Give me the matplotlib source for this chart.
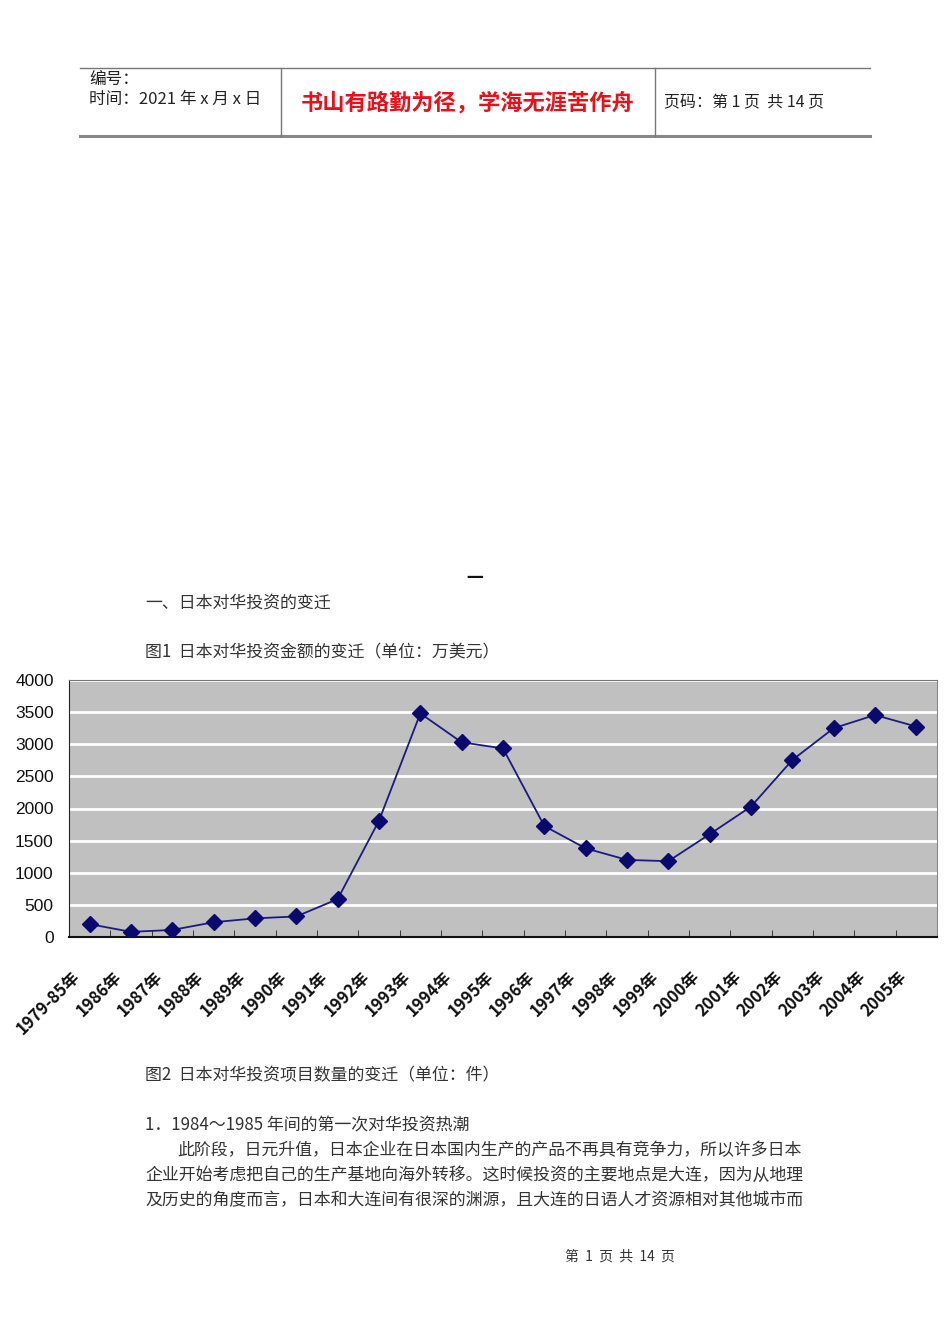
import numpy as np
import matplotlib
matplotlib.use('Agg')
import matplotlib.pyplot as plt
from matplotlib.ticker import FixedLocator
from matplotlib.transforms import ScaledTranslation

plt.rcParams['font.family'] = ['Noto Sans CJK SC', 'DejaVu Sans']

# 日本对华投资金额（万美元）
years = ['1979-85年', '1986年', '1987年', '1988年', '1989年', '1990年', '1991年',
         '1992年', '1993年', '1994年', '1995年', '1996年', '1997年', '1998年',
         '1999年', '2000年', '2001年', '2002年', '2003年', '2004年', '2005年']
amount = [200, 80, 110, 230, 290, 320, 590, 1810, 3480, 3030, 2935, 1727,
          1380, 1200, 1180, 1600, 2030, 2755, 3250, 3455, 3275]
yticks = [0, 500, 1000, 1500, 2000, 2500, 3000, 3500, 4000]

W, H = 950, 1344
fig = plt.figure(figsize=(W / 100, H / 100), dpi=100)
fig.patch.set_facecolor('white')

def px(x, y):
    return x / W, 1 - y / H

def line(x0, y0, x1, y1, **kw):
    a, b = px(x0, y0)
    c, d = px(x1, y1)
    fig.add_artist(plt.Line2D([a, c], [b, d], transform=fig.transFigure, **kw))

def txt(x, y, s, **kw):
    a, b = px(x, y)
    fig.text(a, b, s, va='center', **kw)

# 页眉表格
line(80, 68, 870, 68, color='#777777', lw=1.0)
line(80, 136, 870, 136, color='#888888', lw=2.2)
line(281, 68, 281, 136, color='#777777', lw=1.0)
line(655, 68, 655, 136, color='#777777', lw=1.0)
txt(89, 80, '编号：', fontsize=12, color='#222222')
txt(89, 99, '时间：2021 年 x 月 x 日', fontsize=12, color='#222222')
txt(468, 103, '书山有路勤为径，学海无涯苦作舟', fontsize=16, color='#e8101a',
    ha='center', fontweight='bold')
txt(664, 103, '页码：第 1 页  共 14 页', fontsize=11.5, color='#222222')

# 正文
body = '#333333'
fs = 12.2
txt(475, 578, '一', fontsize=12, color='#111111', ha='center', fontweight='bold')
txt(145, 602, '一、日本对华投资的变迁', fontsize=fs, color=body)
txt(145, 652, '图1  日本对华投资金额的变迁（单位：万美元）', fontsize=fs, color=body)
txt(145, 1075, '图2  日本对华投资项目数量的变迁（单位：件）', fontsize=fs, color=body)
txt(145, 1125, '1．1984～1985 年间的第一次对华投资热潮', fontsize=fs, color=body)
txt(177, 1150, '此阶段，日元升值，日本企业在日本国内生产的产品不再具有竞争力，所以许多日本',
    fontsize=fs, color=body)
txt(145, 1175, '企业开始考虑把自己的生产基地向海外转移。这时候投资的主要地点是大连，因为从地理',
    fontsize=fs, color=body)
txt(145, 1200, '及历史的角度而言，日本和大连间有很深的渊源，且大连的日语人才资源相对其他城市而',
    fontsize=fs, color=body)
txt(620, 1256, '第  1  页  共  14  页', fontsize=10, color=body, ha='center')

# 图表
l, t, r, b = 69, 680, 937, 937
ax = fig.add_axes([l / W, 1 - b / H, (r - l) / W, (b - t) / H])
ax.set_facecolor('#c0c0c0')
x = np.arange(len(years))
ax.plot(x, amount, color='#1a1a80', lw=1.3, marker='D', markersize=8.5,
        markerfacecolor='#0a0a6e', markeredgecolor='#0a0a6e', zorder=3)
ax.set_xlim(-0.5, len(years) - 0.5)
ax.set_ylim(0, 4000)
ax.set_yticks(yticks)
ax.yaxis.grid(True, color='white', lw=2)
ax.set_axisbelow(True)
ax.tick_params(axis='y', length=0, pad=11, labelsize=12.5)
for lab in ax.get_yticklabels():
    lab.set_family(['Liberation Sans', 'DejaVu Sans'])
    lab.set_color('#111111')

ax.set_xticks(x)
ax.set_xticklabels(years, rotation=45, ha='right', rotation_mode='anchor',
                   fontsize=12, fontweight='bold', color='#111111')
ax.tick_params(axis='x', which='major', length=0, pad=22)
shift = ScaledTranslation(-13.5 / 72, 0, fig.dpi_scale_trans)
for lab in ax.get_xticklabels():
    lab.set_transform(lab.get_transform() + shift)
ax.xaxis.set_minor_locator(FixedLocator(np.arange(0.5, len(years) - 0.5, 1)))
ax.tick_params(axis='x', which='minor', direction='in', length=5, color='#222222')

ax.spines['left'].set_color('#222222')
ax.spines['bottom'].set_color('#111111')
ax.spines['bottom'].set_linewidth(1.5)
ax.spines['top'].set_color('#777777')
ax.spines['right'].set_color('#888888')

fig.savefig('out.png', dpi=100, facecolor='white')
